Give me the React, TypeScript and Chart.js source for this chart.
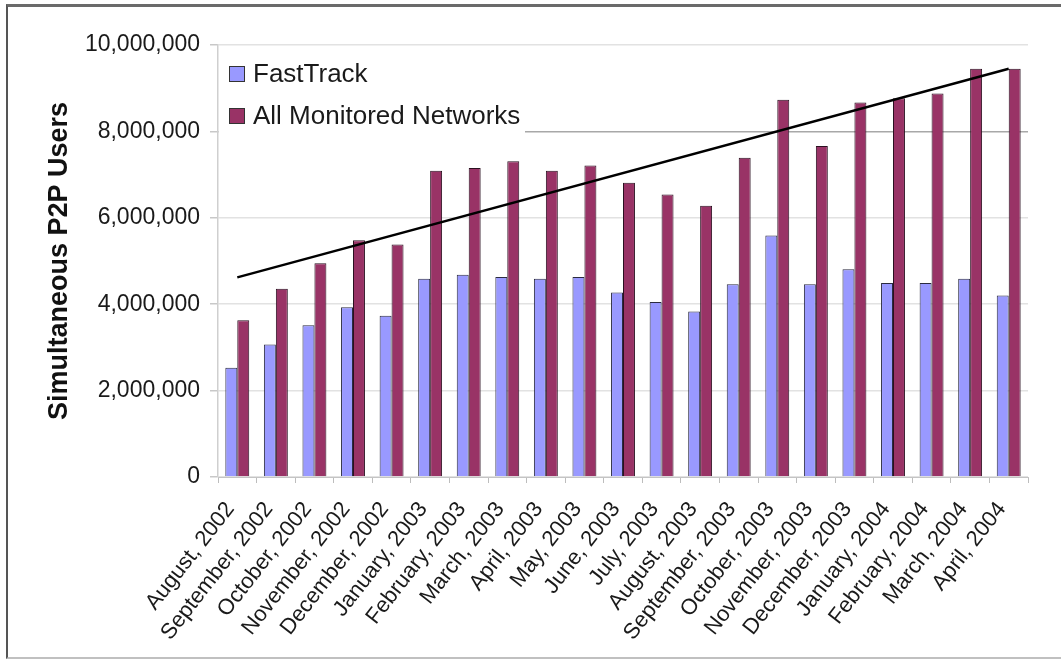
import React, { useEffect, useRef } from 'react';
import { Chart, registerables } from 'chart.js';

Chart.register(...registerables);

const categories = [
  'August, 2002', 'September, 2002', 'October, 2002', 'November, 2002', 'December, 2002',
  'January, 2003', 'February, 2003', 'March, 2003', 'April, 2003', 'May, 2003', 'June, 2003',
  'July, 2003', 'August, 2003', 'September, 2003', 'October, 2003', 'November, 2003',
  'December, 2003', 'January, 2004', 'February, 2004', 'March, 2004', 'April, 2004',
];

const fastTrack = [
  2530000, 3070000, 3510000, 3930000, 3730000, 4590000, 4680000, 4630000, 4590000, 4630000,
  4270000, 4050000, 3830000, 4460000, 5590000, 4460000, 4810000, 4490000, 4490000, 4590000, 4200000,
];

const allNetworks = [
  3630000, 4360000, 4950000, 5480000, 5380000, 7090000, 7150000, 7310000, 7090000, 7210000,
  6810000, 6540000, 6280000, 7390000, 8730000, 7660000, 8670000, 8770000, 8880000, 9450000, 9450000,
];

// trend line end points (first and last category)
const trendEnds = [4620000, 9450000];

const seriesNames = ['FastTrack', 'All Monitored Networks'];
const yTitle = 'Simultaneous P2P Users';
const yMin = 0;
const yMax = 10000000;
const yStep = 2000000;

const FONT = "'Liberation Sans', Arial, Helvetica, sans-serif";
const BLUE = '#9999FF';
const PLUM = '#993366';

const insetLegend = {
  id: 'insetLegend',
  beforeDatasetsDraw(chart: any) {
    const { ctx, chartArea } = chart;
    ctx.save();
    ctx.fillStyle = '#ffffff';
    ctx.fillRect(chartArea.left + 1, 47, 306, 93);
    const items = chart.data.datasets.filter((d: any) => d.type !== 'line');
    const rowsY = [66, 108];
    ctx.font = `26px ${FONT}`;
    ctx.textBaseline = 'alphabetic';
    ctx.textAlign = 'left';
    items.forEach((d: any, i: number) => {
      const y = rowsY[i];
      ctx.fillStyle = d.backgroundColor;
      ctx.fillRect(229, y, 16, 16);
      ctx.strokeStyle = '#333333';
      ctx.lineWidth = 1;
      ctx.strokeRect(229.5, y + 0.5, 15, 15);
      ctx.fillStyle = '#1a1a1a';
      ctx.fillText(d.label, 253, y + 16);
    });
    ctx.restore();
  },
};

export default function App() {
  const canvasRef = useRef<HTMLCanvasElement | null>(null);

  useEffect(() => {
    const canvas = canvasRef.current;
    if (!canvas) return;
    const chart = new Chart(canvas, {
      type: 'bar',
      data: {
        labels: categories,
        datasets: [
          {
            label: seriesNames[0],
            data: fastTrack,
            backgroundColor: BLUE,
            borderColor: '#2b2b40',
            borderWidth: 1,
            barPercentage: 1,
            categoryPercentage: 0.62,
            order: 1,
          },
          {
            label: seriesNames[1],
            data: allNetworks,
            backgroundColor: PLUM,
            borderColor: '#2a1020',
            borderWidth: 1,
            barPercentage: 1,
            categoryPercentage: 0.62,
            order: 1,
          },
          {
            type: 'line',
            label: 'Trend',
            data: [
              { x: categories[0], y: trendEnds[0] },
              { x: categories[categories.length - 1], y: trendEnds[1] },
            ],
            borderColor: '#000000',
            borderWidth: 2.5,
            pointRadius: 0,
            fill: false,
            order: 0,
          } as any,
        ],
      },
      options: {
        responsive: false,
        animation: false,
        devicePixelRatio: 1,
        layout: { padding: { left: 0, right: 33, top: 45, bottom: 0 } },
        plugins: {
          legend: { display: false },
          tooltip: { enabled: false },
          title: { display: false },
        },
        scales: {
          x: {
            offset: true,
            grid: {
              offset: true,
              drawOnChartArea: false,
              drawTicks: true,
              tickLength: 6,
              color: '#bdbdbd',
            },
            border: { color: '#c4c4c4', width: 1 },
            ticks: {
              autoSkip: false,
              minRotation: 52,
              maxRotation: 52,
              padding: 14,
              labelOffset: -7,
              color: '#1a1a1a',
              font: { family: FONT, size: 22 },
            },
            afterFit: (s: any) => { s.height = 183; },
          },
          y: {
            min: yMin,
            max: yMax,
            grid: {
              color: (c: any) => (c.tick && c.tick.value === 8000000 ? '#a8a8a8' : '#e2e2e2'),
              tickColor: '#c8c8c8',
              tickLength: 8,
              lineWidth: 1.5,
            },
            border: { color: '#cfcfcf', width: 1.5 },
            ticks: {
              stepSize: yStep,
              padding: 10,
              color: '#1a1a1a',
              font: { family: FONT, size: 23 },
              callback: (v: any) => Number(v).toLocaleString('en-US'),
            },
            title: {
              display: true,
              text: yTitle,
              color: '#111111',
              font: { family: FONT, size: 27, weight: 'bold' },
              padding: { top: 43, bottom: 0 },
            },
            afterFit: (s: any) => { s.width = 218; },
          },
        },
      },
      plugins: [insetLegend],
    });
    return () => chart.destroy();
  }, []);

  return (
    <div style={{ position: 'absolute', left: 0, top: 0, width: 1061, height: 660, overflow: 'hidden', background: '#fff' }}>
      <div
        style={{
          position: 'absolute',
          left: 6,
          top: 4,
          width: 1080,
          height: 655,
          boxSizing: 'border-box',
          borderTop: '3px solid #6a6a6a',
          borderLeft: '2px solid #555555',
          borderBottom: '2px solid #c0c0c0',
        }}
      />
      <canvas ref={canvasRef} width={1061} height={660} style={{ position: 'absolute', left: 0, top: 0 }} />
    </div>
  );
}
